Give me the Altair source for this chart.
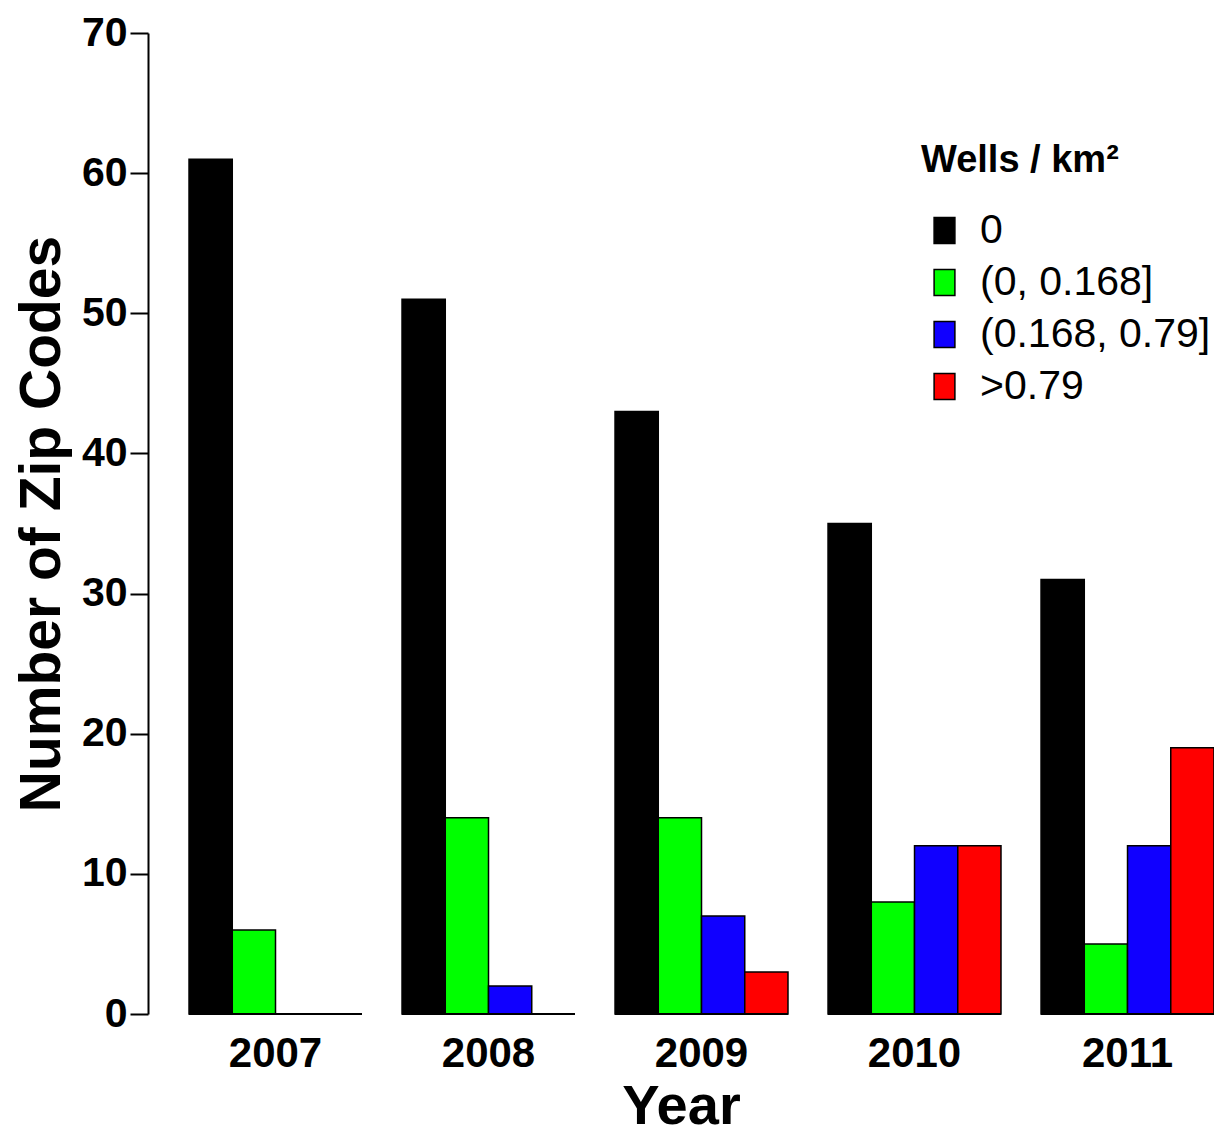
import altair as alt
import pandas as pd

# ---- data ----
years = ["2007", "2008", "2009", "2010", "2011"]
categories = ["0", "(0, 0.168]", "(0.168, 0.79]", ">0.79"]
colors = ["#000000", "#00FF00", "#1000FF", "#FF0000"]
count_zero = [61, 51, 43, 35, 31]
count_low = [6, 14, 14, 8, 5]
count_mid = [0, 2, 7, 12, 12]
count_high = [0, 0, 3, 12, 19]
y_ticks = [0, 10, 20, 30, 40, 50, 60, 70]

series = [count_zero, count_low, count_mid, count_high]
rows = []
for i, yr in enumerate(years):
    for cat, vals in zip(categories, series):
        rows.append({"Year": yr, "Wells": cat, "Count": vals[i]})
df = pd.DataFrame(rows)
base_df = pd.DataFrame({"Year": years, "Count": [0] * len(years)})

FONT = "Liberation Sans"

xscale = alt.Scale(domain=years, paddingInner=0.188, paddingOuter=0.0963, align=1)
yscale = alt.Scale(domain=[0, 70], nice=False, zero=True)

x_axis = alt.Axis(
    title="Year", domain=False, ticks=False, tickSize=0, labelAngle=0,
    labelFont=FONT, labelFontSize=42, labelFontWeight="bold", labelColor="black",
    labelPadding=19, titleFont=FONT, titleFontSize=56, titleFontWeight="bold",
    titleColor="black", titlePadding=5,
)
y_axis = alt.Axis(
    title="Number of Zip Codes", values=y_ticks, grid=False,
    tickSize=18, tickWidth=2, tickColor="black", domainWidth=2, domainColor="black",
    labelFont=FONT, labelFontSize=41, labelFontWeight="bold", labelColor="black",
    labelPadding=3, labelOverlap=False,
    titleFont=FONT, titleFontSize=57, titleFontWeight="bold", titleColor="black",
    titlePadding=10,
)

legend = alt.Legend(
    title="Wells / km²", orient="none", legendX=773, legendY=109,
    titleFont=FONT, titleFontSize=38, titleFontWeight="bold", titleColor="black",
    titlePadding=30, titleLimit=500,
    labelFont=FONT, labelFontSize=41, labelColor="black", labelOffset=15, labelLimit=500,
    symbolType="M-0.8,-1H0.8V1H-0.8Z", symbolSize=676, symbolOffset=3,
    symbolStrokeColor="black", symbolStrokeWidth=1.5, symbolOpacity=1,
    rowPadding=10, padding=0,
)

bars = alt.Chart(df).mark_bar(stroke="black", strokeWidth=1.5, opacity=1).encode(
    x=alt.X("Year:N", scale=xscale, axis=x_axis, sort=years),
    xOffset=alt.XOffset("Wells:N", scale=alt.Scale(domain=categories, paddingInner=0, paddingOuter=0), sort=categories),
    y=alt.Y("Count:Q", scale=yscale, axis=y_axis),
    fill=alt.Fill("Wells:N", scale=alt.Scale(domain=categories, range=colors), legend=legend, sort=categories),
)

baseline = alt.Chart(base_df).mark_bar(fill="black", stroke="black", strokeWidth=2).encode(
    x=alt.X("Year:N", scale=xscale, axis=x_axis, sort=years),
    y=alt.Y("Count:Q", scale=yscale, axis=y_axis),
)

chart = alt.layer(bars, baseline).properties(
    width=1066, height=981,
    autosize=alt.AutoSizeParams(type="none"),
    padding={"left": 140, "top": 25, "right": 0, "bottom": 123},
    background="white",
).configure_view(stroke=None)

chart.save("out.html", embed_options={"renderer": "svg", "actions": False})
